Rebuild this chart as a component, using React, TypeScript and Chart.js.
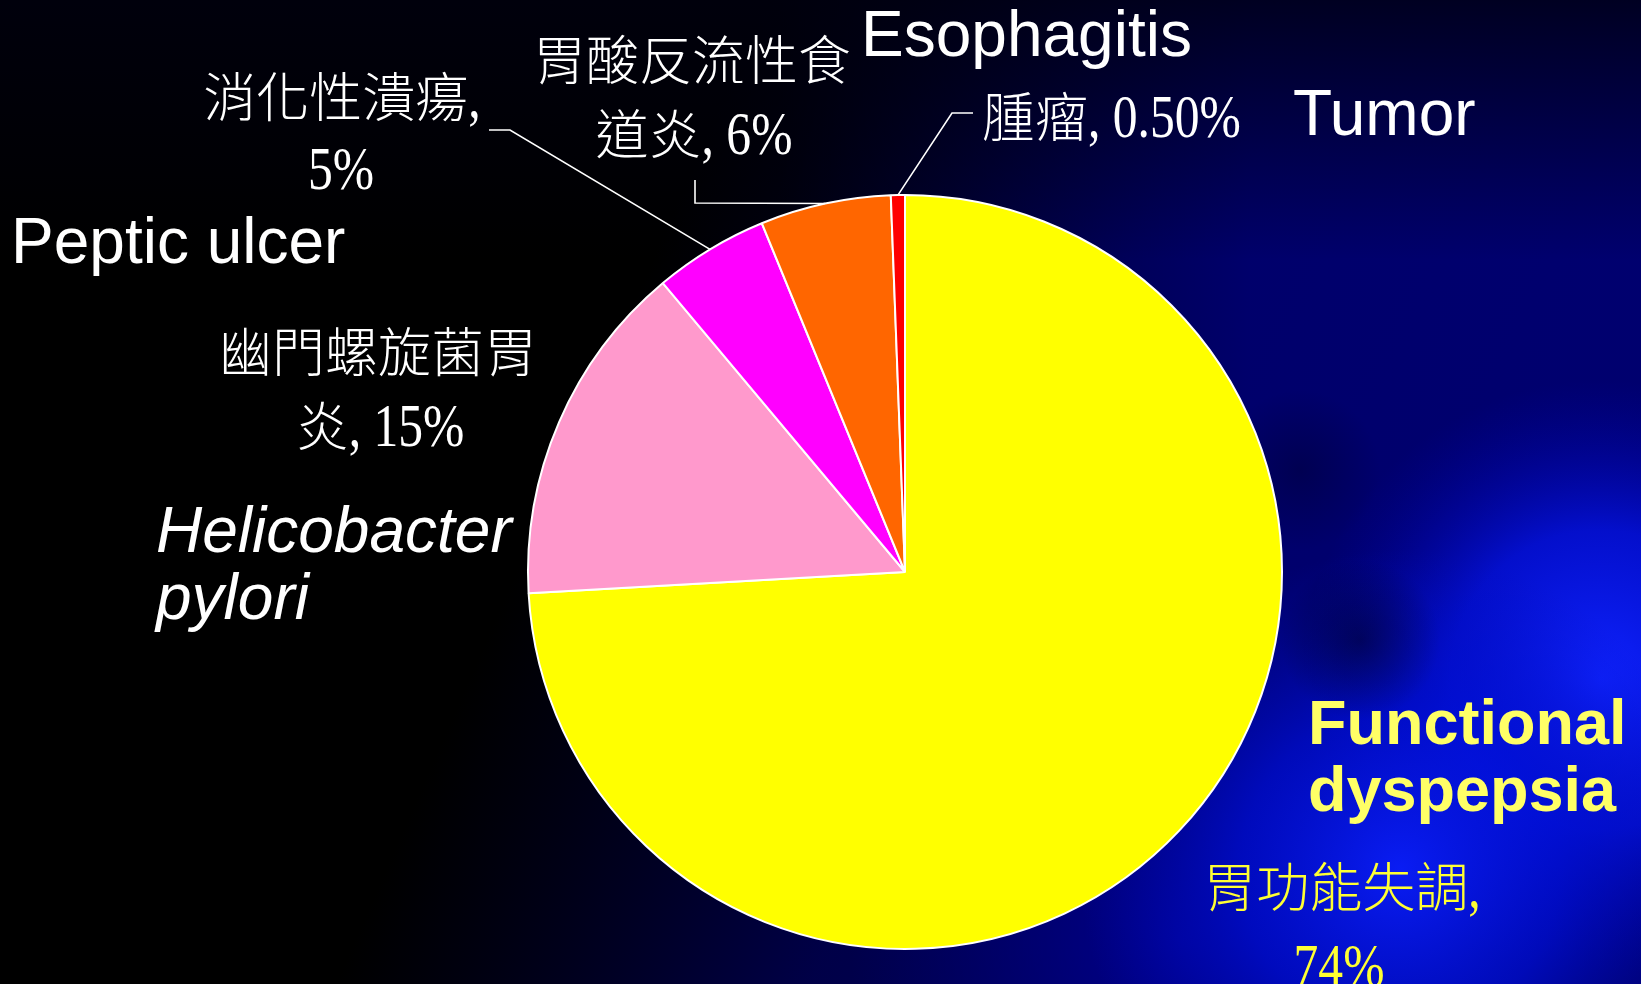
import React, { useEffect, useRef } from "react";
import { Chart, registerables } from "chart.js";

Chart.register(...registerables);

// ---- data ----
const categoriesZh = ["胃功能失調", "幽門螺旋菌胃炎", "消化性潰瘍", "胃酸反流性食道炎", "腫瘤"];
const categoriesEn = ["Functional dyspepsia", "Helicobacter pylori", "Peptic ulcer", "Esophagitis", "Tumor"];
const values = [74.1, 14.8, 4.9, 5.6, 0.6];
const valueLabels = ["74%", "15%", "5%", "6%", "0.50%"];
const sliceColors = ["#FFFF00", "#FF99CC", "#FF00FF", "#FF6600", "#FF0000"];

const W = 1641;
const H = 984;

const FONT_EN = "'Liberation Sans', Arial, sans-serif";
const FONT_CJK = "'Noto Sans CJK TC', 'Noto Sans CJK SC', serif";
const FONT_NUM = "'Liberation Serif', 'Times New Roman', serif";

function radial(
  ctx: CanvasRenderingContext2D,
  x: number,
  y: number,
  rad: number,
  stops: [number, string][]
) {
  const r = ctx.createRadialGradient(x, y, 0, x, y, rad);
  stops.forEach(([o, c]) => r.addColorStop(o, c));
  ctx.fillStyle = r;
  ctx.fillRect(0, 0, W, H);
}

function drawBackground(ctx: CanvasRenderingContext2D) {
  ctx.save();
  ctx.fillStyle = "#000000";
  ctx.fillRect(0, 0, W, H);

  // navy wash to the right (diagonal)
  let g = ctx.createLinearGradient(700, 150, 1500, 500);
  g.addColorStop(0, "rgba(0,0,60,0)");
  g.addColorStop(0.5, "rgba(0,0,85,0.85)");
  g.addColorStop(1, "rgba(0,0,115,1)");
  ctx.fillStyle = g;
  ctx.fillRect(0, 0, W, H);

  // lower area navy
  g = ctx.createLinearGradient(780, 0, 1250, 0);
  g.addColorStop(0, "rgba(0,0,60,0)");
  g.addColorStop(1, "rgba(0,0,110,0.9)");
  ctx.fillStyle = g;
  ctx.fillRect(0, 0, W, H);

  // darker top
  g = ctx.createLinearGradient(0, 0, 0, 260);
  g.addColorStop(0, "rgba(0,0,15,0.8)");
  g.addColorStop(1, "rgba(0,0,15,0)");
  ctx.fillStyle = g;
  ctx.fillRect(0, 0, W, 260);

  // navy in lower middle
  radial(ctx, 1180, 940, 330, [
    [0, "rgba(0,0,150,0.85)"],
    [1, "rgba(0,0,120,0)"],
  ]);

  // bright blue blobs
  radial(ctx, 1600, 680, 300, [
    [0, "rgba(15,35,255,1)"],
    [0.5, "rgba(5,20,235,0.75)"],
    [1, "rgba(0,0,170,0)"],
  ]);
  radial(ctx, 1400, 870, 320, [
    [0, "rgba(10,30,250,0.95)"],
    [0.5, "rgba(0,15,215,0.7)"],
    [1, "rgba(0,10,180,0)"],
  ]);

  // subtle dark patches
  radial(ctx, 1360, 640, 80, [
    [0, "rgba(0,0,15,0.45)"],
    [1, "rgba(0,0,15,0)"],
  ]);
  radial(ctx, 1300, 470, 80, [
    [0, "rgba(0,0,20,0.3)"],
    [1, "rgba(0,0,20,0)"],
  ]);
  ctx.restore();
}

const NUM_SIZE = 62;
const NUM_SCALE = 0.8;
const CJK_SIZE = 53;

// split string into CJK and non-CJK runs
function runs(s: string) {
  const out: { t: string; cjk: boolean }[] = [];
  for (const ch of s) {
    const cjk = /[\u3000-\u9fff\uff00-\uffef]/.test(ch);
    const last = out[out.length - 1];
    if (last && last.cjk === cjk) last.t += ch;
    else out.push({ t: ch, cjk });
  }
  return out;
}

function mixedText(
  ctx: CanvasRenderingContext2D,
  s: string,
  x: number,
  y: number,
  color: string,
  align: "left" | "center"
) {
  const parts = runs(s);
  const widths = parts.map((p) => {
    ctx.font = p.cjk ? `300 ${CJK_SIZE}px ${FONT_CJK}` : `${NUM_SIZE}px ${FONT_NUM}`;
    const w = ctx.measureText(p.t).width;
    return p.cjk ? w : w * NUM_SCALE;
  });
  const total = widths.reduce((a, b) => a + b, 0);
  let cx = align === "center" ? x - total / 2 : x;
  ctx.fillStyle = color;
  ctx.textAlign = "left";
  ctx.textBaseline = "alphabetic";
  parts.forEach((p, i) => {
    if (p.cjk) {
      ctx.font = `300 ${CJK_SIZE}px ${FONT_CJK}`;
      ctx.fillText(p.t, cx, y);
    } else {
      ctx.save();
      ctx.font = `${NUM_SIZE}px ${FONT_NUM}`;
      ctx.translate(cx, y);
      ctx.scale(NUM_SCALE, 1);
      ctx.fillText(p.t, 0, 0);
      ctx.restore();
    }
    cx += widths[i];
  });
}

function text(
  ctx: CanvasRenderingContext2D,
  s: string,
  x: number,
  y: number,
  font: string,
  color: string
) {
  ctx.font = font;
  ctx.fillStyle = color;
  ctx.textAlign = "left";
  ctx.textBaseline = "alphabetic";
  ctx.fillText(s, x, y);
}

const bgPlugin = {
  id: "bg",
  beforeDraw(chart: any) {
    drawBackground(chart.ctx);
  },
};

const labelPlugin = {
  id: "labels",
  afterDraw(chart: any) {
    const ctx: CanvasRenderingContext2D = chart.ctx;
    const meta = chart.getDatasetMeta(0);
    const anchor = (i: number) => {
      const a = meta.data[i] as any;
      const mid = (a.startAngle + a.endAngle) / 2;
      return [a.x + Math.cos(mid) * a.outerRadius, a.y + Math.sin(mid) * a.outerRadius];
    };
    ctx.save();
    ctx.strokeStyle = "#FFFFFF";
    ctx.lineWidth = 1.6;
    // leader lines
    const lines: [number, number[][]][] = [
      [2, [[510, 130], [489, 130]]],
      [3, [[695, 203], [695, 180]]],
      [4, [[952, 113], [973, 113]]],
    ];
    lines.forEach(([i, pts]) => {
      const [ax, ay] = anchor(i);
      ctx.beginPath();
      ctx.moveTo(ax, ay);
      pts.forEach(([px, py]) => ctx.lineTo(px, py));
      ctx.stroke();
    });

    const white = "#FFFFFF";
    const yel = "#FFFF33";
    // Chinese data labels
    mixedText(ctx, "胃酸反流性食", 692, 80, white, "center");
    mixedText(ctx, "道炎, " + valueLabels[3], 694, 154, white, "center");
    mixedText(ctx, categoriesZh[2] + ",", 342, 117, white, "center");
    mixedText(ctx, valueLabels[2], 341, 189, white, "center");
    mixedText(ctx, "幽門螺旋菌胃", 378, 372, white, "center");
    mixedText(ctx, "炎, " + valueLabels[1], 380, 446, white, "center");
    mixedText(ctx, categoriesZh[4] + ", " + valueLabels[4], 982, 137, white, "left");
    mixedText(ctx, categoriesZh[0] + ",", 1342, 907, yel, "center");
    mixedText(ctx, valueLabels[0], 1339, 986, yel, "center");

    // English annotations
    const en = `64px ${FONT_EN}`;
    text(ctx, categoriesEn[3], 861, 56, en, white);
    text(ctx, categoriesEn[4], 1293, 135, en, white);
    text(ctx, categoriesEn[2], 11, 263, en, white);
    text(ctx, "Helicobacter", 156, 552, `italic 64px ${FONT_EN}`, white);
    text(ctx, "pylori", 156, 619, `italic 64px ${FONT_EN}`, white);
    text(ctx, "Functional", 1308, 744, `bold 63px ${FONT_EN}`, "#FFFF66");
    text(ctx, "dyspepsia", 1308, 811, `bold 63px ${FONT_EN}`, "#FFFF66");
    ctx.restore();
  },
};

export default function App() {
  const ref = useRef<HTMLCanvasElement | null>(null);

  useEffect(() => {
    if (!ref.current) return;
    const chart = new Chart(ref.current, {
      type: "pie",
      data: {
        labels: categoriesZh,
        datasets: [
          {
            data: values,
            backgroundColor: sliceColors,
            borderColor: "#FFFFFF",
            borderWidth: 2,
          },
        ],
      },
      options: {
        animation: false,
        responsive: false,
        maintainAspectRatio: false,
        layout: { padding: { left: 527, right: 358, top: 194, bottom: 34 } },
        plugins: {
          legend: { display: false },
          tooltip: { enabled: false },
        },
      },
      plugins: [bgPlugin, labelPlugin],
    });
    return () => chart.destroy();
  }, []);

  return (
    <div style={{ position: "fixed", left: 0, top: 0, width: W, height: H, background: "#000" }}>
      <canvas ref={ref} width={W} height={H} style={{ display: "block", width: W, height: H }} />
    </div>
  );
}
